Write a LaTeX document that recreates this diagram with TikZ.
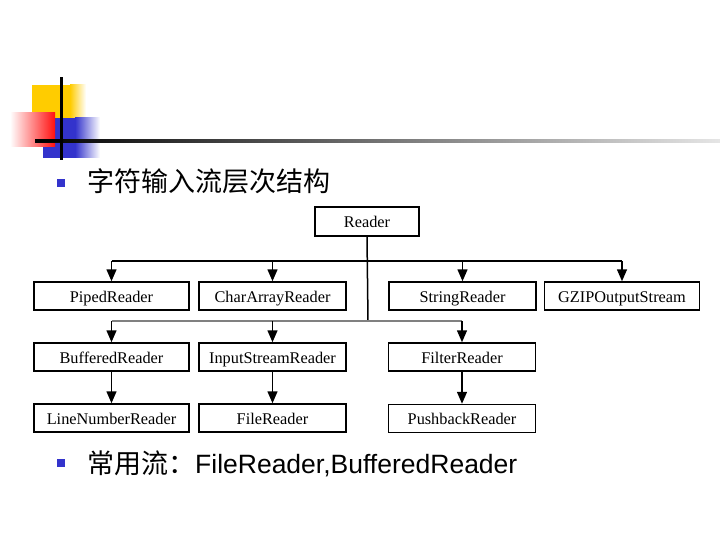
\documentclass[tikz,border=0pt]{standalone}
\usepackage{fontspec}
\setmainfont{Liberation Serif}
\newfontfamily\cjk{Noto Sans CJK SC}
\newfontfamily\arialf{Liberation Sans}
\usetikzlibrary{arrows.meta}
\definecolor{bulblue}{HTML}{3333CC}
\definecolor{decoyellow}{HTML}{FFCC00}
\definecolor{decored}{HTML}{FF1010}
\tikzset{
  cls/.style={draw=black, line width=1.5pt, fill=white, inner sep=0pt,
    minimum height=28pt, text height=12.5pt, text depth=0pt,
    font=\fontsize{16.3}{18}\selectfont},
  wide/.style={cls, minimum width=155pt},
  norm/.style={cls, minimum width=147pt},
  conn/.style={line width=1.5pt, draw=black},
  gconn/.style={line width=1.5pt, draw=black!50},
  arr/.style={conn, -{Triangle[length=12pt,width=10pt]}},
  bullet/.style={fill=bulblue, draw=none, minimum size=8pt, inner sep=0pt},
}
\begin{document}
\begin{tikzpicture}[x=1pt,y=-1pt]
\useasboundingbox (0,0) rectangle (720,540);
\fill[white] (0,0) rectangle (720,540);
% decoration
\fill[decoyellow] (32,85) rectangle (70,120);
\shade[left color=decoyellow, right color=white] (70,85) rectangle (86,120);
\fill[bulblue] (43,118) rectangle (75,158);
\shade[left color=bulblue, right color=white] (75,118) rectangle (100,158);
\shade[left color=white, right color=decored] (10,113) rectangle (55,147);
\shade[left color=black, right color=black!10] (35,139.5) rectangle (720,142.5);
\fill[black] (35,139.5) rectangle (62,142.5);
\fill[black] (59.5,77) rectangle (62.5,160);
% title
\node[bullet] (b1) at (61,183) {};
\node[anchor=base west, inner sep=0pt, font=\cjk\fontsize{27}{30}\selectfont] (t1) at (87,192) {字符输入流层次结构};
% boxes
\node[cls, minimum width=104pt, minimum height=29pt] (reader) at (367,221.5) {Reader};
\node[wide] (piped) at (111.5,296) {PipedReader};
\node[norm] (chararr) at (272.5,296) {CharArrayReader};
\node[norm] (string) at (462.5,296) {StringReader};
\node[wide] (gzip) at (622,296) {GZIPOutputStream};
\node[wide] (buffered) at (111.5,357) {BufferedReader};
\node[norm] (input) at (272.5,357) {InputStreamReader};
\node[norm] (filter) at (462,357) {FilterReader};
\node[wide] (linenum) at (111.5,418) {LineNumberReader};
\node[norm] (file) at (272.5,418) {FileReader};
\node[norm] (push) at (462,418.5) {PushbackReader};
% buses
\coordinate (j1) at (368,261);
\coordinate (j2) at (368,321);
\draw[conn] (reader.south) -- (j2);
\draw[conn] (piped.north |- j1) -- (gzip.north |- j1);
\draw[arr] (piped.north |- j1) -- (piped.north);
\draw[arr] (chararr.north |- j1) -- (chararr.north);
\draw[arr] (string.north |- j1) -- (string.north);
\draw[arr] (gzip.north |- j1) -- (gzip.north);
\draw[gconn] (buffered.north |- j2) -- (filter.north |- j2);
\draw[arr] (buffered.north |- j2) -- (buffered.north);
\draw[arr] (input.north |- j2) -- (input.north);
\draw[arr] (filter.north |- j2) -- (filter.north);
\draw[arr] (buffered.south) -- (linenum.north);
\draw[arr] (input.south) -- (file.north);
\draw[arr] (filter.south) -- (push.north);
% second bullet
\node[bullet] (b2) at (61,462.5) {};
\node[anchor=base west, inner sep=0pt] (t2) at (87,473) {{\cjk\fontsize{27}{30}\selectfont 常用流：}{\arialf\fontsize{26.5}{30}\selectfont FileReader,BufferedReader}};
\end{tikzpicture}
\end{document}
